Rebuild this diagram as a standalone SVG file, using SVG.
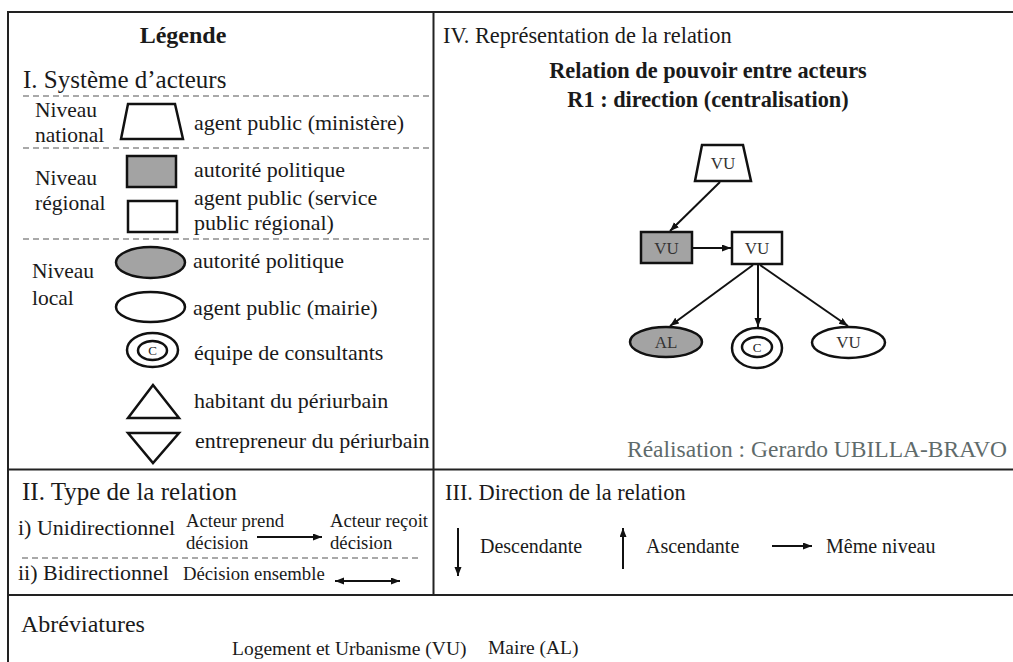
<svg xmlns="http://www.w3.org/2000/svg" width="1013" height="662" viewBox="0 0 1013 662" font-family="'Liberation Serif', 'DejaVu Serif', serif">
<defs>
<marker id="ah" markerWidth="10" markerHeight="8" refX="9" refY="3.5" orient="auto-start-reverse" markerUnits="userSpaceOnUse"><path d="M0,0 L9,3.5 L0,7 z" fill="#111"/></marker>
</defs>
<style>
text{font-family:'Liberation Serif','DejaVu Serif',serif}
.t{fill:#1a1a1a}
.h{font-size:25px}
.h2{font-size:22.4px}
.lv{font-size:21.5px}
.d{font-size:22px}
.s{font-size:18.7px}
.r{font-size:20px}
.ab{font-size:19.5px}
.b{font-weight:bold;font-size:22.3px}
.n{font-size:17px;fill:#333;text-anchor:middle}
.c{font-size:13px;fill:#222;text-anchor:middle}
.frame{stroke:#222;stroke-width:2;fill:none}
.dash{stroke:#555;stroke-width:1.2;stroke-dasharray:6 4;fill:none}
.shape{stroke:#111;stroke-width:2.5;fill:#fff}
.gray{fill:#a3a3a3}
.line{stroke:#111;stroke-width:2;fill:none}
</style>
<rect width="1013" height="662" fill="#fff"/>
<g id="frame">
<path class="frame" d="M8,662 V12 H1013"/>
<line class="frame" x1="433.5" y1="12" x2="433.5" y2="595"/>
<line class="frame" x1="8" y1="469.5" x2="1013" y2="469.5"/>
<line class="frame" x1="8" y1="595" x2="1013" y2="595"/>
<line class="dash" x1="23" y1="96" x2="433" y2="96"/>
<line class="dash" x1="23" y1="148" x2="433" y2="148"/>
<line class="dash" x1="23" y1="239" x2="433" y2="239"/>
<line class="dash" x1="22" y1="558" x2="422" y2="558"/>
</g>
<g id="legend-title">
<text class="t" x="183" y="43" text-anchor="middle" style="font-weight:bold;font-size:24px">Légende</text>
<text class="t h" x="23" y="88">I. Système d’acteurs</text>
</g>
<g id="legend-national">
<text class="t lv" x="35" y="117">Niveau</text>
<text class="t lv" x="35" y="142">national</text>
<polygon class="shape" points="128,104 175,104 183,139 121,139"/>
<text class="t d" x="194" y="130">agent public (ministère)</text>
</g>
<g id="legend-regional">
<text class="t lv" x="35" y="185">Niveau</text>
<text class="t lv" x="35" y="210">régional</text>
<rect class="shape gray" x="127" y="156" width="49" height="31"/>
<text class="t d" x="194" y="177">autorité politique</text>
<rect class="shape" x="128" y="201" width="49" height="31"/>
<text class="t d" x="194" y="205">agent public (service</text>
<text class="t d" x="194" y="230">public régional)</text>
</g>
<g id="legend-local">
<text class="t lv" x="32" y="278">Niveau</text>
<text class="t lv" x="32" y="305">local</text>
<ellipse class="shape gray" cx="150.5" cy="262.5" rx="34.5" ry="15.5"/>
<text class="t d" x="193" y="268">autorité politique</text>
<ellipse class="shape" cx="150.5" cy="307" rx="34.5" ry="15"/>
<text class="t d" x="193" y="315">agent public (mairie)</text>
<ellipse class="shape" cx="152.5" cy="350" rx="25.5" ry="17"/>
<ellipse class="shape" cx="152.5" cy="350.5" rx="14.5" ry="9.5"/>
<text class="t c" x="152.5" y="355">C</text>
<text class="t d" x="194" y="360">équipe de consultants</text>
<polygon class="shape" points="153,385 128,418 179,418"/>
<text class="t d" x="194" y="408">habitant du périurbain</text>
<polygon class="shape" points="128,433 179,433 153,463"/>
<text class="t d" x="195" y="448">entrepreneur du périurbain</text>
</g>
<g id="type-relation">
<text class="t h" x="22" y="500">II. Type de la relation</text>
<text class="t d" x="18" y="535">i) Unidirectionnel</text>
<text class="t s" x="186" y="527">Acteur prend</text>
<text class="t s" x="186" y="549">décision</text>
<line class="line" x1="257" y1="537" x2="322" y2="537" marker-end="url(#ah)"/>
<text class="t s" x="330" y="527">Acteur reçoit</text>
<text class="t s" x="330" y="549">décision</text>
<text class="t d" x="18" y="580">ii) Bidirectionnel</text>
<text class="t s" x="183" y="580">Décision ensemble</text>
<line class="line" x1="335" y1="581" x2="400" y2="581" marker-start="url(#ah)" marker-end="url(#ah)"/>
</g>
<g id="direction-relation">
<text class="t h2" x="445" y="500">III. Direction de la relation</text>
<line class="line" x1="458" y1="528" x2="458" y2="576" marker-end="url(#ah)"/>
<text class="t r" x="480" y="553">Descendante</text>
<line class="line" x1="623" y1="569" x2="623" y2="528" marker-end="url(#ah)"/>
<text class="t r" x="646" y="553">Ascendante</text>
<line class="line" x1="772" y1="546" x2="812" y2="546" marker-end="url(#ah)"/>
<text class="t r" x="826" y="553">Même niveau</text>
</g>
<g id="abbreviations">
<text class="t" x="21" y="632" style="font-size:24px">Abréviatures</text>
<text class="t ab" x="232" y="655">Logement et Urbanisme (VU)</text>
<text class="t ab" x="488" y="654">Maire (AL)</text>
</g>
<g id="representation-title">
<text class="t h2" x="443" y="43">IV. Représentation de la relation</text>
<text class="t b" x="708" y="78" text-anchor="middle">Relation de pouvoir entre acteurs</text>
<text class="t b" x="708" y="107" text-anchor="middle">R1 : direction (centralisation)</text>
</g>
<g id="connectors">
<line class="line" x1="720" y1="182" x2="670" y2="231" marker-end="url(#ah)"/>
<line class="line" x1="692" y1="248" x2="731" y2="248" marker-end="url(#ah)"/>
<line class="line" x1="753" y1="265" x2="670" y2="326" marker-end="url(#ah)"/>
<line class="line" x1="758" y1="265" x2="758" y2="327" marker-end="url(#ah)"/>
<line class="line" x1="760" y1="265" x2="848" y2="326" marker-end="url(#ah)"/>
</g>
<g id="node-vu-national">
<polygon class="shape" points="702,145 743,145 751,181 695,181"/>
<text class="t n" x="723" y="169">VU</text>
</g>
<g id="node-vu-regional-politique">
<rect class="shape gray" x="641" y="232" width="51" height="31"/>
<text class="t n" x="666.5" y="254">VU</text>
</g>
<g id="node-vu-regional-agent">
<rect class="shape" x="732" y="232" width="50" height="32"/>
<text class="t n" x="757" y="254">VU</text>
</g>
<g id="node-al">
<ellipse class="shape gray" cx="666" cy="342" rx="36" ry="15"/>
<text class="t n" x="666" y="348">AL</text>
</g>
<g id="node-consultants">
<ellipse class="shape" cx="757" cy="348" rx="25" ry="20"/>
<ellipse class="shape" cx="757" cy="347" rx="15" ry="10"/>
<text class="t c" x="757" y="352">C</text>
</g>
<g id="node-vu-local">
<ellipse class="shape" cx="848.5" cy="342.5" rx="36.5" ry="15.5"/>
<text class="t n" x="848.5" y="348">VU</text>
</g>
<text class="t" x="627" y="457" style="font-size:23.5px;fill:#5f6b6b">Réalisation : Gerardo UBILLA-BRAVO</text>
</svg>
